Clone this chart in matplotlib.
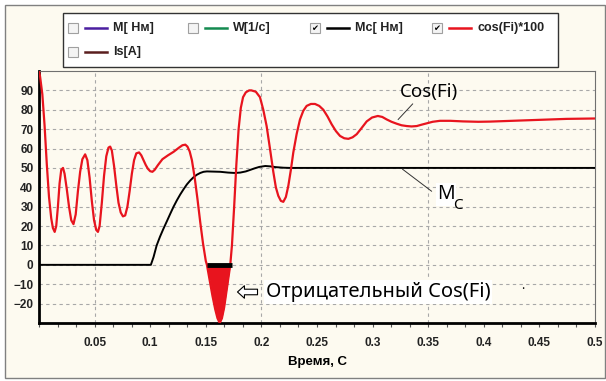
import matplotlib
matplotlib.use("Agg")
import matplotlib.pyplot as plt
from matplotlib.patches import Rectangle
from matplotlib.lines import Line2D
from matplotlib.ticker import MultipleLocator, FixedLocator

# ── данные ─────────────────────────────────────
t_cos = [0.000, 0.001, 0.003, 0.005, 0.007, 0.009, 0.011, 0.0125, 0.0141, 0.0155,
         0.017, 0.0185, 0.020, 0.0216, 0.023, 0.025, 0.027, 0.029, 0.031, 0.033,
         0.035, 0.037, 0.039, 0.0415, 0.0435, 0.0455, 0.0475, 0.0495, 0.0515, 0.053,
         0.0545, 0.0565, 0.0585, 0.0605, 0.0625, 0.064, 0.0655, 0.0675, 0.0695, 0.0715,
         0.0735, 0.0755, 0.0775, 0.0795, 0.0815, 0.0835, 0.0855, 0.0875, 0.090, 0.092,
         0.094, 0.096, 0.098, 0.100, 0.102, 0.104, 0.107, 0.111, 0.116, 0.121,
         0.126, 0.129, 0.1316, 0.1335, 0.1355, 0.1375, 0.140, 0.1425, 0.145, 0.1475,
         0.150, 0.151, 0.1535, 0.156, 0.1585, 0.1605, 0.1625, 0.1645, 0.1665, 0.1685,
         0.1705, 0.172, 0.1735, 0.1755, 0.1775, 0.1795, 0.1815, 0.1835, 0.186, 0.189,
         0.191, 0.195, 0.1987, 0.2017, 0.2047, 0.2077, 0.2107, 0.213, 0.2152, 0.2175,
         0.2197, 0.222, 0.2242, 0.2265, 0.2287, 0.2317, 0.2347, 0.2377, 0.2407, 0.2445,
         0.2482, 0.252, 0.2557, 0.2595, 0.2632, 0.267, 0.2707, 0.2745, 0.2782, 0.282,
         0.2857, 0.290, 0.2947, 0.2995, 0.3047, 0.3087, 0.3127, 0.317, 0.3217, 0.326,
         0.3307, 0.335, 0.3397, 0.344, 0.3487, 0.354, 0.3606, 0.370, 0.3813, 0.395,
         0.4056, 0.420, 0.4415, 0.460, 0.4745, 0.490, 0.500]
cos_fi = [100, 97, 88, 72, 52, 35, 24, 19, 17, 20,
          30, 42, 49, 50, 47, 39, 30, 23, 21, 26,
          38, 48, 54.5, 57, 54, 45, 33, 23, 18, 17,
          20, 32, 46, 56, 60.5, 61, 59, 51, 41, 32,
          27, 25, 25.5, 30, 38, 47, 54, 57.5, 58, 56.5,
          54, 51.5, 49.5, 48.3, 48, 49, 51.5, 54.5, 56.5, 58.3,
          60.5, 61.7, 62, 61, 58.5, 54, 45, 34, 22, 11,
          2, 0, -8, -16, -23, -27.5, -30, -27.5, -22, -14,
          -6, 0, 10, 30, 52, 70, 81, 86.5, 89, 90,
          90, 89.3, 86.5, 80, 71.6, 60, 48, 40, 35.6, 33,
          32.5, 35, 40.7, 49, 58, 67.5, 75, 79.5, 82, 83,
          83, 82, 80, 76.5, 72.5, 69, 66.5, 65.3, 65, 65.8,
          67.4, 70.5, 74, 76, 76.8, 76.3, 75, 73.8, 72.8, 72,
          71.6, 71.4, 71.6, 72.3, 73, 73.8, 74.3, 74.3, 74, 73.8,
          73.9, 74.2, 74.6, 75, 75.3, 75.4, 75.5]

t_mc = [0.0, 0.1006, 0.103, 0.1058, 0.1088, 0.1118, 0.115, 0.118, 0.121, 0.124,
        0.127, 0.130, 0.133, 0.136, 0.139, 0.142, 0.145, 0.148, 0.151, 0.157,
        0.163, 0.170, 0.176, 0.181, 0.186, 0.190, 0.194, 0.198, 0.2035, 0.208,
        0.213, 0.220, 0.226, 0.5]
mc = [0, 0, 4, 10, 14.5, 18.5, 22.5, 26.3, 30, 33.3,
      36.3, 39, 41.5, 43.5, 45.2, 46.5, 47.4, 48, 48.2, 48.1,
      48, 47.6, 47.4, 47.6, 48.2, 49, 49.8, 50.5, 51, 50.8,
      50.4, 50.1, 50, 50]

neg_span = [0.151, 0.1735]          # участок отрицательного cos(Fi)
yticks = list(range(-20, 100, 10))
xticks = [0.05, 0.1, 0.15, 0.2, 0.25, 0.3, 0.35, 0.4, 0.45, 0.5]
xtick_labels = ["0.05", "0.1", "0.15", "0.2", "0.25", "0.3", "0.35", "0.4", "0.45", "0.5"]
vgrid = [0.05, 0.2, 0.35]

leg_labels = ["M[ Нм]", "W[1/с]", "Mc[ Нм]", "cos(Fi)*100", "Is[A]"]
leg_colors = ["#4B1EA0", "#148A50", "#000000", "#E8141E", "#5A1E1E"]
leg_checked = [False, False, True, True, False]

# ── оформление ────────────────────────────────
W, H = 606, 381
CREAM = "#FDFAF0"
RED = "#E8141E"
LBL = ["Liberation Sans Narrow", "Liberation Sans", "DejaVu Sans"]
ANN = ["Noto Sans", "DejaVu Sans"]

def fx(x): return x / W
def fy(y): return 1 - y / H

fig = plt.figure(figsize=(W / 100, H / 100), dpi=100, facecolor="white")
fig.add_artist(Rectangle((fx(5), fy(378)), fx(600), (373) / H, transform=fig.transFigure,
                         fc=CREAM, ec="#808080", lw=1.0, zorder=0))

ax = fig.add_axes([fx(39), fy(323), fx(556), (323 - 71) / H])
ax.set_facecolor(CREAM)
ax.set_xlim(0, 0.5)
ax.set_ylim(-30, 100)

for y in yticks:
    ax.axhline(y, color="#A8A8A8", lw=0.8, ls=(0, (3, 3)), zorder=1)
for x in vgrid:
    ax.axvline(x, color="#A8A8A8", lw=0.8, ls=(0, (3, 3)), zorder=1)

ax.plot(t_mc, mc, color="black", lw=1.4, zorder=3)
ax.plot(t_cos, cos_fi, color=RED, lw=1.6, zorder=4, solid_joinstyle="round")
ax.fill_between(t_cos, cos_fi, 0, where=[v <= 0 for v in cos_fi], interpolate=True,
                color=RED, lw=0, zorder=4)
ax.plot(neg_span, [0, 0], color="black", lw=3.5, zorder=5, solid_capstyle="butt")

ax.yaxis.set_major_locator(FixedLocator(yticks))
ax.xaxis.set_major_locator(FixedLocator(xticks))
ax.set_xticklabels(xtick_labels)
ax.xaxis.set_minor_locator(MultipleLocator(0.05 / 3))
ax.tick_params(axis="y", length=0, pad=4)
ax.tick_params(axis="x", which="both", length=3, width=0.8, color="#555555", pad=7)
for lab in ax.get_xticklabels() + ax.get_yticklabels():
    lab.set_family(LBL); lab.set_fontweight("bold"); lab.set_fontsize(8.5); lab.set_color("#222222")
ax.set_xlabel("Время, С", family=LBL, fontweight="bold", fontsize=9.5, labelpad=5)

for s in ["left", "bottom"]:
    ax.spines[s].set_linewidth(2); ax.spines[s].set_color("black")
for s in ["top", "right"]:
    ax.spines[s].set_linewidth(0.8); ax.spines[s].set_color("#707070")

# ── подписи ───────────────────────────────────
ax.text(0.3246, 89, "Cos(Fi)", family=ANN, fontsize=13.5, va="center", ha="left", zorder=6)
ax.plot([0.336, 0.323], [83, 75], color="#333333", lw=0.7, zorder=6)
ax.text(0.358, 36.4, "M", family=ANN, fontsize=14, va="center", ha="left", zorder=6,
        bbox=dict(fc="white", ec="none", pad=1))
ax.text(0.3725, 30.5, "C", family=ANN, fontsize=11, va="center", ha="left", zorder=6)
ax.plot([0.327, 0.353], [49.3, 38], color="#333333", lw=0.7, zorder=6)
ax.annotate("", xy=(0.176, -14), xytext=(0.199, -14),
            arrowprops=dict(arrowstyle="simple,head_length=0.5,head_width=0.9,tail_width=0.4",
                            fc="white", ec="black", lw=0.8), zorder=6)
ax.text(0.204, -14, "Отрицательный Cos(Fi)", family=ANN, fontsize=14.5, va="center",
        ha="left", zorder=6, bbox=dict(fc="white", ec="none", pad=1.5))
ax.text(0.435, -12.5, "·", family=ANN, fontsize=9, va="center", ha="center", zorder=6)

# ── легенда ───────────────────────────────────
fig.add_artist(Rectangle((fx(63), fy(67)), fx(558 - 63), (67 - 13) / H, transform=fig.transFigure,
                         fc="white", ec="#333333", lw=1.0, zorder=2))
col_x = [68, 188, 310, 432, 68]
row_y = [28, 28, 28, 28, 52]
for lab, c, chk, x0, y0 in zip(leg_labels, leg_colors, leg_checked, col_x, row_y):
    fig.add_artist(Rectangle((fx(x0), fy(y0 + 5)), fx(10), 10 / H, transform=fig.transFigure,
                             fc="#F4F4F4", ec="#A0A0A0", lw=0.8, zorder=3))
    if chk:
        fig.text(fx(x0 + 5), fy(y0), "✔", fontsize=6, ha="center", va="center", family="DejaVu Sans")
    fig.add_artist(Line2D([fx(x0 + 17), fx(x0 + 39)], [fy(y0), fy(y0)], transform=fig.transFigure,
                          color=c, lw=1.8, zorder=3))
    fig.text(fx(x0 + 45), fy(y0), lab, family=LBL, fontweight="bold", fontsize=9,
             ha="left", va="center", color="#222222")

fig.savefig("out.png", dpi=100, facecolor="white")
